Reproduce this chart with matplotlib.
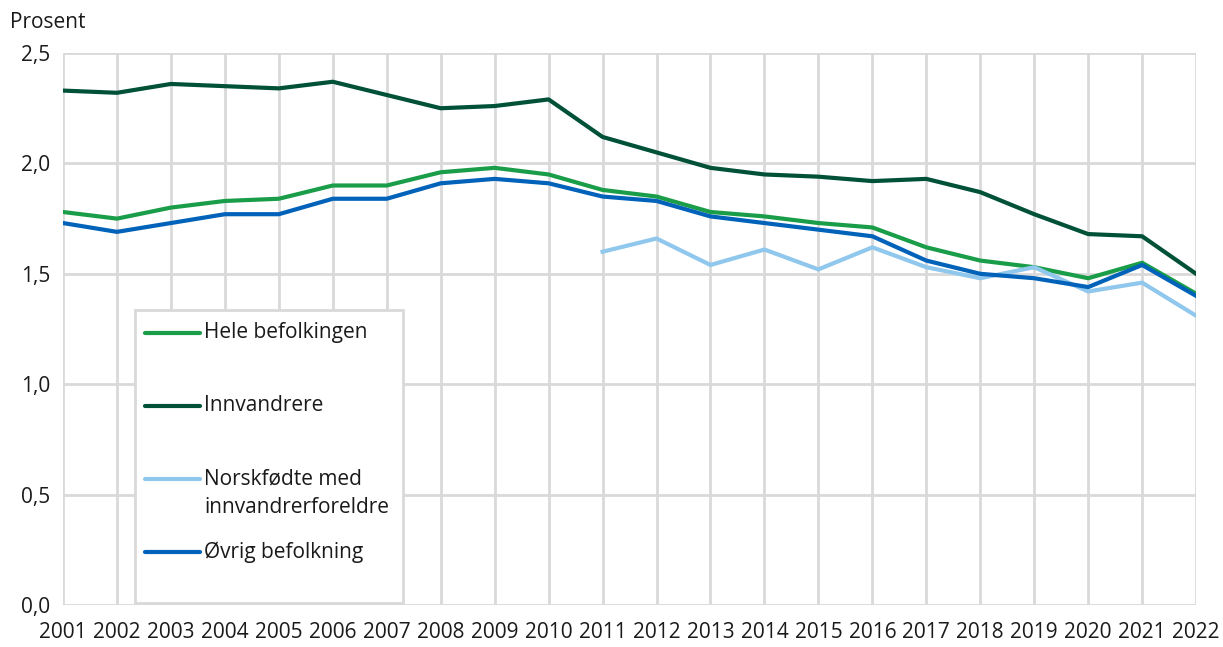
import matplotlib.pyplot as plt
from matplotlib.patches import Rectangle
from matplotlib.ticker import MultipleLocator, FuncFormatter

plt.rcParams['font.family'] = ['Open Sans', 'DejaVu Sans']

# data (prosent)
years = list(range(2001, 2023))
hele = [1.78, 1.75, 1.80, 1.83, 1.84, 1.90, 1.90, 1.96, 1.98, 1.95, 1.88,
        1.85, 1.78, 1.76, 1.73, 1.71, 1.62, 1.56, 1.53, 1.48, 1.55, 1.41]
innvandrere = [2.33, 2.32, 2.36, 2.35, 2.34, 2.37, 2.31, 2.25, 2.26, 2.29, 2.12,
               2.05, 1.98, 1.95, 1.94, 1.92, 1.93, 1.87, 1.77, 1.68, 1.67, 1.50]
norsk_years = list(range(2011, 2023))
norskfodte = [1.60, 1.66, 1.54, 1.61, 1.52, 1.62, 1.53, 1.48, 1.53, 1.42, 1.46, 1.31]
ovrig = [1.73, 1.69, 1.73, 1.77, 1.77, 1.84, 1.84, 1.91, 1.93, 1.91, 1.85,
         1.83, 1.76, 1.73, 1.70, 1.67, 1.56, 1.50, 1.48, 1.44, 1.54, 1.40]

labels = ['Hele befolkingen', 'Innvandrere',
          'Norskfødte med\ninnvandrerforeldre', 'Øvrig befolkning']
colors = ['#1a9d49', '#005138', '#90c7ed', '#0062b8']

fig = plt.figure(figsize=(12.23, 6.47), dpi=100)
ax = fig.add_axes([0.0515, 0.065, 0.9265, 0.853])

ax.plot(years, hele, color=colors[0], lw=3)
ax.plot(years, innvandrere, color=colors[1], lw=3)
ax.plot(norsk_years, norskfodte, color=colors[2], lw=3)
ax.plot(years, ovrig, color=colors[3], lw=3)

ax.set_xlim(2001, 2022)
ax.set_ylim(0, 2.5)
ax.set_xticks(years)
ax.yaxis.set_major_locator(MultipleLocator(0.5))
ax.yaxis.set_major_formatter(FuncFormatter(lambda v, p: f'{v:.1f}'.replace('.', ',')))
ax.grid(True, color='#d9d9d9', lw=2)
ax.set_axisbelow(True)
for s in ax.spines.values():
    s.set_visible(False)
ax.tick_params(length=0, labelsize=15, colors='#1a1a1a', pad=9)
ax.tick_params(axis='x', pad=12)

fig.text(0.008, 0.965, 'Prosent', fontsize=15, color='#1a1a1a', va='center')

# legend box drawn by hand (handle of the 2-line entry sits on its first line)
ax.add_patch(Rectangle((0.0635, 0.0036), 0.2365, 0.5308, transform=ax.transAxes,
                       facecolor='white', edgecolor='#d9d9d9', lw=2, zorder=5))
handle_y = [0.4933, 0.3605, 0.2283, 0.0960]
text_y = [0.4933, 0.3605, 0.2020, 0.0960]
for lab, col, hy, ty in zip(labels, colors, handle_y, text_y):
    ax.plot([0.0724, 0.1209], [hy, hy], color=col, lw=3, transform=ax.transAxes,
            zorder=6, solid_capstyle='round')
    ax.text(0.1244, ty, lab, transform=ax.transAxes, fontsize=15, color='#1a1a1a',
            va='center', ha='left', linespacing=1.45, zorder=6)

fig.savefig('out.png', dpi=100, facecolor='white')
